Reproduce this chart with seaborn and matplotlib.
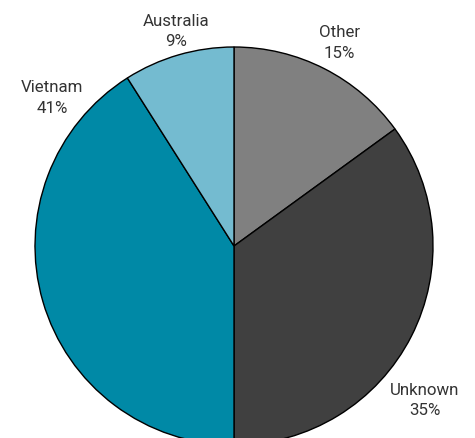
import matplotlib
matplotlib.use("Agg")
import matplotlib.pyplot as plt
import seaborn as sns

sns.set_theme(style="white")
plt.rcParams["font.family"] = ["Roboto", "DejaVu Sans"]

categories = ["Other", "Unknown", "Vietnam", "Australia"]
shares = [15, 35, 41, 9]
colors = ["#808080", "#404040", "#0089a6", "#74bbd0"]

# label anchor positions (data units, pie radius = 1)
label_pos = [(0.528, 1.025), (0.960, -0.770), (-0.915, 0.748), (-0.291, 1.084)]

fig = plt.figure(figsize=(4.75, 4.39), dpi=100)
ax = fig.add_axes([0, 0, 1, 1])

ax.pie(shares, colors=colors, startangle=90, counterclock=False,
       radius=1, center=(0, 0),
       wedgeprops=dict(edgecolor="black", linewidth=1.0))

for name, val, (x, y) in zip(categories, shares, label_pos):
    ax.text(x, y, f"{name}\n{val}%", ha="center", va="center",
            fontsize=12.2, color="#333333", linespacing=1.45)

ax.set_xlim(-234 / 199, (475 - 234) / 199)
ax.set_ylim(-(439 - 247) / 199, 247 / 199)
ax.set_aspect("auto")
ax.axis("off")

fig.savefig("out.png", dpi=100, facecolor="white")
